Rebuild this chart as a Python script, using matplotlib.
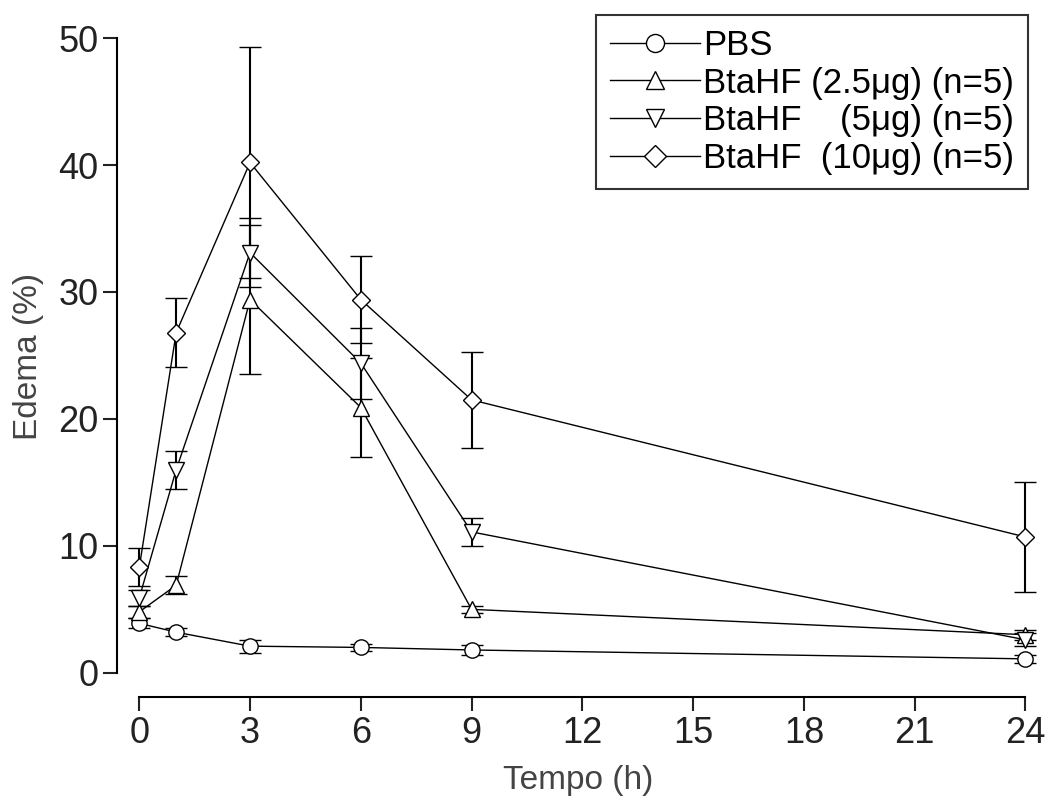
import matplotlib
matplotlib.use("Agg")
import matplotlib.pyplot as plt
from matplotlib.lines import Line2D

# time points (h)
tempo = [0, 1, 3, 6, 9, 24]

pbs = [3.9, 3.2, 2.1, 2.0, 1.8, 1.1]
pbs_err = [0.4, 0.3, 0.5, 0.3, 0.4, 0.3]

bta_25 = [4.8, 6.9, 29.4, 20.9, 5.0, 3.0]
bta_25_err = [0.5, 0.7, 5.9, 3.9, 0.3, 0.4]

bta_5 = [5.9, 16.0, 33.1, 24.4, 11.1, 2.6]
bta_5_err = [0.6, 1.5, 2.7, 2.8, 1.1, 0.5]

bta_10 = [8.3, 26.8, 40.2, 29.4, 21.5, 10.7]
bta_10_err = [1.5, 2.7, 9.1, 3.4, 3.8, 4.3]

labels = ["PBS", "BtaHF (2.5\u03bcg) (n=5)", "BtaHF    (5\u03bcg) (n=5)",
          "BtaHF  (10\u03bcg) (n=5)"]
markers = ["o", "^", "v", "D"]

plt.rcParams['font.family'] = ['Liberation Sans', 'DejaVu Sans']

fig = plt.figure(figsize=(10.55, 8.02), dpi=100)
ax = fig.add_axes([0.111, 0.131, 0.875, 0.85])

series = [(pbs, pbs_err), (bta_25, bta_25_err), (bta_5, bta_5_err),
          (bta_10, bta_10_err)]
handles = []
for (vals, errs), m, lab in zip(series, markers, labels):
    ms = 9 if m == "D" else 11
    ax.errorbar(tempo, vals, yerr=errs, color="black", lw=1,
                marker=m, ms=ms, mfc="white", mec="black", mew=1,
                ecolor="black", elinewidth=1.5, capsize=8, capthick=1.5)
    handles.append(Line2D([], [], color="black", lw=1, marker=m, ms=ms + 2,
                          mfc="white", mec="black", mew=1, label=lab))

ax.set_xlim(-0.6, 24.4)
ax.set_ylim(-1.9, 51.8)
ax.set_xticks(range(0, 25, 3))
ax.set_yticks(range(0, 51, 10))
ax.spines['top'].set_visible(False)
ax.spines['right'].set_visible(False)
ax.spines['left'].set_bounds(0, 50)
ax.spines['bottom'].set_bounds(0, 24)
ax.spines['left'].set_linewidth(1.5)
ax.spines['bottom'].set_linewidth(1.5)
ax.tick_params(labelsize=26, width=1.5, length=10, colors="#222222")

ax.set_xlabel("Tempo (h)", fontsize=24, color="#444444", labelpad=10)
ax.set_ylabel("Edema (%)", fontsize=24, color="#444444", labelpad=10)

leg = ax.legend(handles=handles, loc="upper right",
                bbox_to_anchor=(0.987, 1.0),
                fontsize=25, frameon=True, fancybox=False, edgecolor="black",
                handlelength=2.6, handletextpad=0.1, borderpad=0.4,
                labelspacing=0.13, borderaxespad=0)
leg.get_frame().set_linewidth(1.5)

fig.savefig("out.png", dpi=100)
